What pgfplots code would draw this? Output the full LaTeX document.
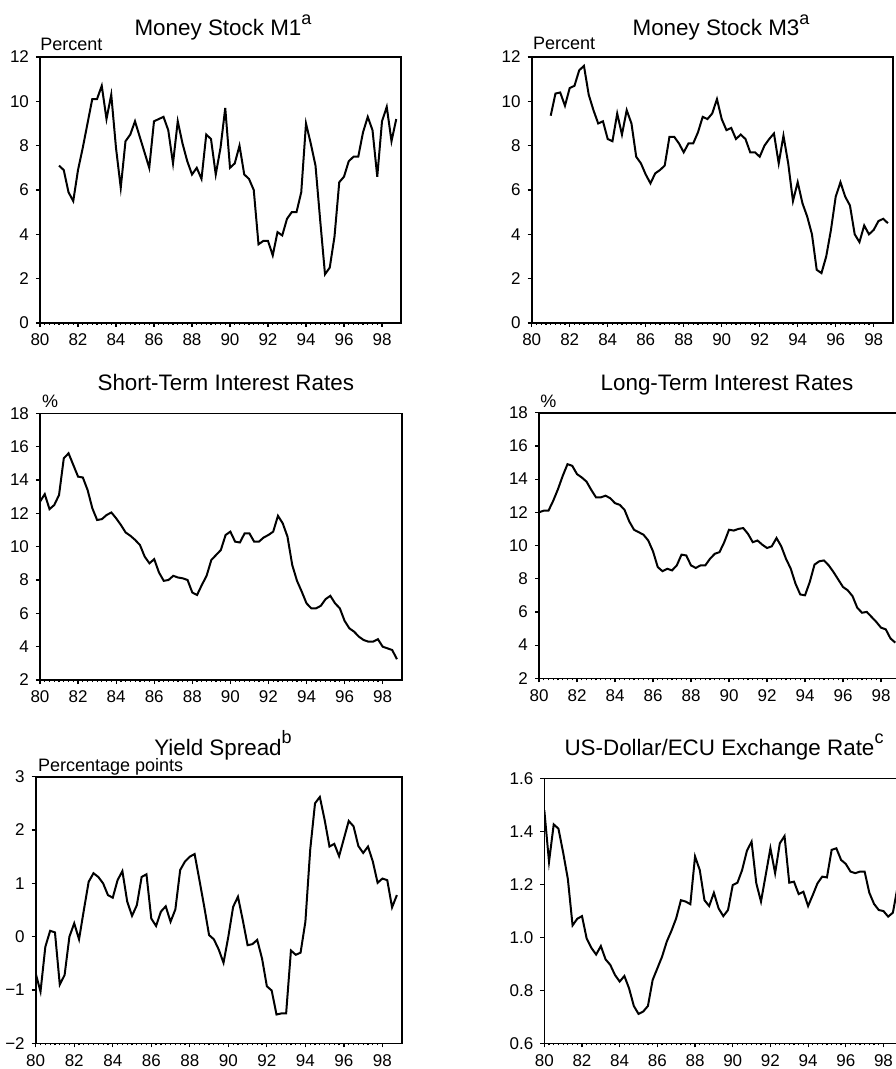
\documentclass[border=0pt]{standalone}
\usepackage{fontspec}
\setmainfont{Liberation Sans}
\usepackage{pgfplots}
\pgfplotsset{compat=1.18}

% one picture pixel = 0.5pt
\pgfplotsset{
  panel/.style={
    scale only axis, anchor=north west,
    xmin=80, xmax=99, xtick={80,82,...,98}, minor x tick num=7,
    tick align=outside, tick pos=left,
    major tick length=2pt, minor tick length=1pt,
    axis line style={line width=0.8pt},
    every tick/.append style={black, line width=0.6pt},
    ticklabel style={font=\fontsize{8.5}{10}\selectfont},
    /pgf/number format/assume math mode=true,
  },
  series/.style={black, line width=1pt, mark=none},
}
\newcommand{\titlefont}{\fontsize{11.2}{13}\selectfont}
\newcommand{\unitfont}{\fontsize{9}{11}\selectfont}
\newcommand{\note}[1]{\raisebox{0.5em}{\fontsize{9}{10}\selectfont #1}}

\begin{document}
\begin{tikzpicture}
\useasboundingbox (0,0) rectangle (447.5pt,-534.5pt);

% Money Stock M1
\begin{axis}[panel, at={(20pt,-28.5pt)}, width=180.5pt, height=133pt,
  ymin=0, ymax=12, ytick={0,2,...,12}]
\addplot[series] coordinates {
(81.00,7.1) (81.25,6.9) (81.50,5.9) (81.75,5.5) (82.00,6.9) (82.25,7.9) (82.50,9.0) (82.75,10.1)
(83.00,10.1) (83.25,10.7) (83.50,9.2) (83.75,10.3) (84.00,7.9) (84.25,6.1) (84.50,8.2) (84.75,8.5)
(85.00,9.1) (85.25,8.4) (85.50,7.7) (85.75,7.0) (86.00,9.1) (86.25,9.2) (86.50,9.3) (86.75,8.7)
(87.00,7.2) (87.25,9.1) (87.50,8.1) (87.75,7.3) (88.00,6.7) (88.25,7.0) (88.50,6.5) (88.75,8.5)
(89.00,8.3) (89.25,6.7) (89.50,7.9) (89.75,9.7) (90.00,7.0) (90.25,7.2) (90.50,8.0) (90.75,6.7)
(91.00,6.5) (91.25,6.0) (91.50,3.55) (91.75,3.7) (92.00,3.7) (92.25,3.05) (92.50,4.1) (92.75,3.95)
(93.00,4.7) (93.25,5.0) (93.50,5.0) (93.75,5.9) (94.00,9.0) (94.25,8.1) (94.50,7.1) (94.75,4.6)
(95.00,2.2) (95.25,2.5) (95.50,3.9) (95.75,6.35) (96.00,6.6) (96.25,7.3) (96.50,7.5) (96.75,7.5)
(97.00,8.6) (97.25,9.3) (97.50,8.7) (97.75,6.6) (98.00,9.1) (98.25,9.75) (98.50,8.2) (98.75,9.2)
};
\end{axis}

% Money Stock M3
\begin{axis}[panel, at={(265.85pt,-28.5pt)}, width=180.5pt, height=133pt,
  ymin=0, ymax=12, ytick={0,2,...,12}]
\addplot[series] coordinates {
(81.00,9.35) (81.25,10.35) (81.50,10.4) (81.75,9.8) (82.00,10.6) (82.25,10.7) (82.50,11.4) (82.75,11.6)
(83.00,10.3) (83.25,9.6) (83.50,9.0) (83.75,9.1) (84.00,8.3) (84.25,8.2) (84.50,9.45) (84.75,8.5)
(85.00,9.6) (85.25,9.0) (85.50,7.5) (85.75,7.2) (86.00,6.7) (86.25,6.3) (86.50,6.75) (86.75,6.9)
(87.00,7.1) (87.25,8.4) (87.50,8.4) (87.75,8.1) (88.00,7.7) (88.25,8.1) (88.50,8.1) (88.75,8.6)
(89.00,9.3) (89.25,9.2) (89.50,9.45) (89.75,10.1) (90.00,9.2) (90.25,8.7) (90.50,8.8) (90.75,8.3)
(91.00,8.5) (91.25,8.3) (91.50,7.7) (91.75,7.7) (92.00,7.5) (92.25,8.0) (92.50,8.3) (92.75,8.55)
(93.00,7.2) (93.25,8.45) (93.50,7.2) (93.75,5.5) (94.00,6.35) (94.25,5.4) (94.50,4.8) (94.75,4.0)
(95.00,2.4) (95.25,2.25) (95.50,3.0) (95.75,4.2) (96.00,5.7) (96.25,6.35) (96.50,5.7) (96.75,5.3)
(97.00,4.0) (97.25,3.65) (97.50,4.4) (97.75,4.0) (98.00,4.2) (98.25,4.6) (98.50,4.7) (98.75,4.5)
};
\end{axis}

% Short-term interest rates
\begin{axis}[panel, at={(20pt,-206.65pt)}, width=180.85pt, height=133.35pt,
  ymin=2, ymax=18, ytick={2,4,...,18}]
\addplot[series] coordinates {
(80.00,12.7) (80.25,13.15) (80.50,12.25) (80.75,12.5) (81.00,13.1) (81.25,15.3) (81.50,15.6) (81.75,14.9)
(82.00,14.2) (82.25,14.15) (82.50,13.4) (82.75,12.3) (83.00,11.6) (83.25,11.65) (83.50,11.9) (83.75,12.05)
(84.00,11.7) (84.25,11.3) (84.50,10.85) (84.75,10.65) (85.00,10.4) (85.25,10.1) (85.50,9.4) (85.75,9.0)
(86.00,9.25) (86.25,8.45) (86.50,7.95) (86.75,8.0) (87.00,8.25) (87.25,8.15) (87.50,8.1) (87.75,8.0)
(88.00,7.25) (88.25,7.1) (88.50,7.7) (88.75,8.25) (89.00,9.2) (89.25,9.5) (89.50,9.8) (89.75,10.7)
(90.00,10.9) (90.25,10.3) (90.50,10.25) (90.75,10.8) (91.00,10.8) (91.25,10.3) (91.50,10.3) (91.75,10.55)
(92.00,10.7) (92.25,10.9) (92.50,11.85) (92.75,11.4) (93.00,10.6) (93.25,8.9) (93.50,7.95) (93.75,7.3)
(94.00,6.6) (94.25,6.3) (94.50,6.3) (94.75,6.45) (95.00,6.85) (95.25,7.05) (95.50,6.6) (95.75,6.3)
(96.00,5.55) (96.25,5.1) (96.50,4.9) (96.75,4.6) (97.00,4.4) (97.25,4.3) (97.50,4.3) (97.75,4.45)
(98.00,4.0) (98.25,3.9) (98.50,3.8) (98.75,3.25)
};
\end{axis}

% Long-term interest rates
\begin{axis}[panel, at={(269.5pt,-206.35pt)}, width=180.5pt, height=132.8pt,
  ymin=2, ymax=18, ytick={2,4,...,18}]
\addplot[series] coordinates {
(80.00,12.0) (80.25,12.1) (80.50,12.1) (80.75,12.7) (81.00,13.4) (81.25,14.2) (81.50,14.9) (81.75,14.8)
(82.00,14.3) (82.25,14.1) (82.50,13.85) (82.75,13.35) (83.00,12.9) (83.25,12.9) (83.50,13.0) (83.75,12.85)
(84.00,12.55) (84.25,12.45) (84.50,12.15) (84.75,11.45) (85.00,10.95) (85.25,10.8) (85.50,10.65) (85.75,10.3)
(86.00,9.65) (86.25,8.7) (86.50,8.45) (86.75,8.6) (87.00,8.5) (87.25,8.8) (87.50,9.45) (87.75,9.4)
(88.00,8.8) (88.25,8.65) (88.50,8.8) (88.75,8.8) (89.00,9.2) (89.25,9.5) (89.50,9.6) (89.75,10.2)
(90.00,10.95) (90.25,10.9) (90.50,11.0) (90.75,11.05) (91.00,10.7) (91.25,10.2) (91.50,10.3) (91.75,10.05)
(92.00,9.85) (92.25,9.95) (92.50,10.45) (92.75,9.95) (93.00,9.2) (93.25,8.6) (93.50,7.7) (93.75,7.05)
(94.00,7.0) (94.25,7.8) (94.50,8.85) (94.75,9.05) (95.00,9.1) (95.25,8.8) (95.50,8.4) (95.75,7.95)
(96.00,7.5) (96.25,7.3) (96.50,6.95) (96.75,6.25) (97.00,5.95) (97.25,6.0) (97.50,5.7) (97.75,5.4)
(98.00,5.05) (98.25,4.95) (98.50,4.4) (98.75,4.15)
};
\end{axis}

% Yield spread
\begin{axis}[panel, at={(17.85pt,-388.35pt)}, width=183pt, height=133.3pt,
  ymin=-2, ymax=3, ytick={-2,-1,0,1,2,3}, yticklabels={−2,−1,0,1,2,3}]
\addplot[series] coordinates {
(80.00,-0.69) (80.25,-1.03) (80.50,-0.19) (80.75,0.11) (81.00,0.08) (81.25,-0.9) (81.50,-0.72) (81.75,0.0)
(82.00,0.25) (82.25,-0.05) (82.50,0.5) (82.75,1.03) (83.00,1.19) (83.25,1.12) (83.50,1.0) (83.75,0.78)
(84.00,0.73) (84.25,1.06) (84.50,1.23) (84.75,0.66) (85.00,0.39) (85.25,0.59) (85.50,1.12) (85.75,1.17)
(86.00,0.34) (86.25,0.2) (86.50,0.47) (86.75,0.57) (87.00,0.28) (87.25,0.51) (87.50,1.25) (87.75,1.41)
(88.00,1.5) (88.25,1.55) (88.50,1.06) (88.75,0.56) (89.00,0.03) (89.25,-0.05) (89.50,-0.24) (89.75,-0.49)
(90.00,0.0) (90.25,0.56) (90.50,0.75) (90.75,0.31) (91.00,-0.16) (91.25,-0.14) (91.50,-0.06) (91.75,-0.41)
(92.00,-0.93) (92.25,-1.01) (92.50,-1.46) (92.75,-1.44) (93.00,-1.44) (93.25,-0.26) (93.50,-0.34) (93.75,-0.3)
(94.00,0.28) (94.25,1.63) (94.50,2.5) (94.75,2.62) (95.00,2.19) (95.25,1.69) (95.50,1.74) (95.75,1.51)
(96.00,1.84) (96.25,2.17) (96.50,2.07) (96.75,1.7) (97.00,1.57) (97.25,1.69) (97.50,1.41) (97.75,1.01)
(98.00,1.09) (98.25,1.06) (98.50,0.55) (98.75,0.78)
};
\end{axis}

% US-Dollar/ECU exchange rate
\begin{axis}[panel, at={(272.15pt,-389.15pt)}, width=179pt, height=132.5pt,
  ymin=0.6, ymax=1.6, ytick={0.6,0.8,...,1.61},
  yticklabel style={/pgf/number format/fixed, /pgf/number format/fixed zerofill,
    /pgf/number format/precision=1}]
\addplot[series] coordinates {
(80.00,1.48) (80.25,1.285) (80.50,1.426) (80.75,1.41) (81.00,1.32) (81.25,1.22) (81.50,1.045) (81.75,1.07)
(82.00,1.08) (82.25,0.995) (82.50,0.96) (82.75,0.935) (83.00,0.967) (83.25,0.917) (83.50,0.896) (83.75,0.858)
(84.00,0.833) (84.25,0.854) (84.50,0.807) (84.75,0.741) (85.00,0.711) (85.25,0.72) (85.50,0.741) (85.75,0.839)
(86.00,0.883) (86.25,0.927) (86.50,0.984) (86.75,1.025) (87.00,1.072) (87.25,1.14) (87.50,1.135) (87.75,1.125)
(88.00,1.305) (88.25,1.254) (88.50,1.14) (88.75,1.118) (89.00,1.168) (89.25,1.109) (89.50,1.08) (89.75,1.103)
(90.00,1.197) (90.25,1.206) (90.50,1.254) (90.75,1.326) (91.00,1.361) (91.25,1.204) (91.50,1.135) (91.75,1.235)
(92.00,1.336) (92.25,1.242) (92.50,1.355) (92.75,1.382) (93.00,1.206) (93.25,1.21) (93.50,1.163) (93.75,1.172)
(94.00,1.118) (94.25,1.16) (94.50,1.204) (94.75,1.229) (95.00,1.226) (95.25,1.33) (95.50,1.336) (95.75,1.292)
(96.00,1.277) (96.25,1.248) (96.50,1.242) (96.75,1.248) (97.00,1.248) (97.25,1.168) (97.50,1.126) (97.75,1.103)
(98.00,1.099) (98.25,1.078) (98.50,1.093) (98.75,1.19)
};
\end{axis}

% titles and unit labels
\node[anchor=base, inner sep=0pt, font=\titlefont] at (111.5pt,-18pt) {Money Stock M1\note{a}};
\node[anchor=base, inner sep=0pt, font=\titlefont] at (360.5pt,-18pt) {Money Stock M3\note{a}};
\node[anchor=base, inner sep=0pt, font=\titlefont] at (112.9pt,-195pt) {Short-Term Interest Rates};
\node[anchor=base, inner sep=0pt, font=\titlefont] at (363.5pt,-195pt) {Long-Term Interest Rates};
\node[anchor=base, inner sep=0pt, font=\titlefont] at (111.5pt,-377.5pt) {Yield Spread\note{b}};
\node[anchor=base, inner sep=0pt, font=\titlefont] at (362pt,-377.5pt) {US-Dollar/ECU Exchange Rate\note{c}};
\node[anchor=base west, inner sep=0pt, font=\unitfont] at (20pt,-25.25pt) {Percent};
\node[anchor=base west, inner sep=0pt, font=\unitfont] at (266.35pt,-25pt) {Percent};
\node[anchor=base west, inner sep=0pt, font=\unitfont] at (20.85pt,-203.65pt) {\%};
\node[anchor=base west, inner sep=0pt, font=\unitfont] at (270pt,-203.5pt) {\%};
\node[anchor=base west, inner sep=0pt, font=\unitfont] at (18.85pt,-385.5pt) {Percentage points};
\end{tikzpicture}
\end{document}
